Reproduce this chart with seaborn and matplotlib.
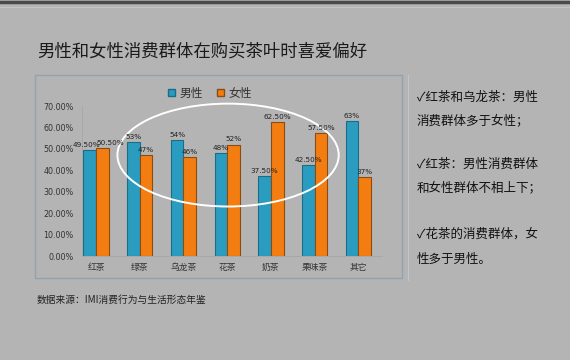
import matplotlib
matplotlib.use("Agg")
import matplotlib.pyplot as plt
import seaborn as sns
import pandas as pd
from matplotlib.patches import Ellipse, Rectangle
from matplotlib.lines import Line2D

categories = ["红茶", "绿茶", "乌龙茶", "花茶", "奶茶", "果味茶", "其它"]
male = [49.5, 53, 54, 48, 37.5, 42.5, 63]
female = [50.5, 47, 46, 52, 62.5, 57.5, 37]
male_labels = ["49.50%", "53%", "54%", "48%", "37.50%", "42.50%", "63%"]
female_labels = ["50.50%", "47%", "46%", "52%", "62.50%", "57.50%", "37%"]
series = ["男性", "女性"]
yticks = [0, 10, 20, 30, 40, 50, 60, 70]

title = "男性和女性消费群体在购买茶叶时喜爱偏好"
notes = ["✓红茶和乌龙茶：男性", "消费群体多于女性；", "", "✓红茶：男性消费群体",
         "和女性群体不相上下；", "", "✓花茶的消费群体，女", "性多于男性。"]
source = "数据来源：IMI消费行为与生活形态年鉴"

sns.set_theme(style="white")
plt.rcParams['font.family'] = ['Noto Sans CJK SC', 'DejaVu Sans']

BG = "#b4b4b4"
BLUE = "#2a9cc0"
ORANGE = "#f47d12"

df = pd.DataFrame({
    "cat": categories * 2,
    "val": male + female,
    "sex": [series[0]] * len(categories) + [series[1]] * len(categories),
})

W, H = 570, 360
fig = plt.figure(figsize=(W / 100, H / 100), dpi=100, facecolor=BG)

# decorative frame lines
fig.add_artist(Line2D([0, 1], [1 - 1.5 / H, 1 - 1.5 / H], color="#4a4a4a", lw=2.5, transform=fig.transFigure))
fig.add_artist(Line2D([0, 1], [1 - 7 / H, 1 - 7 / H], color="#c4c4c4", lw=0.8, transform=fig.transFigure))
fig.add_artist(Rectangle((35 / W, 1 - 278 / H), (402 - 35) / W, (278 - 75) / H, fill=False,
                         ec="#94a2ae", lw=1.0, transform=fig.transFigure))
fig.add_artist(Line2D([408 / W, 408 / W], [1 - 280 / H, 1 - 75 / H], color="#c2c6ca", lw=0.8, transform=fig.transFigure))

ax = fig.add_axes([82 / W, 1 - 256 / H, (382 - 82) / W, 150 / H])
ax.set_facecolor(BG)

sns.barplot(data=df, x="cat", y="val", hue="sex", order=categories, hue_order=series,
            palette=[BLUE, ORANGE], width=0.58, ax=ax, legend=False, saturation=1)

edge_cols = ["#1b6c88", "#8a4c12"]
for i, cont in enumerate(ax.containers):
    for p in cont.patches:
        p.set_edgecolor(edge_cols[i])
        p.set_linewidth(0.8)
    labs = male_labels if i == 0 else female_labels
    anns = ax.bar_label(cont, labels=labs, fontsize=5.2, padding=1.5, color="#222222",
                        family=['DejaVu Sans'])
    # nudge the first pair apart so the close labels do not collide
    if i == 0:
        anns[0].set_ha("right")
        anns[0].xyann = (7.5, 1.5)
    else:
        anns[0].set_ha("left")
        anns[0].xyann = (-4.5, 1.5)

ax.set_ylim(0, 70)
ax.set_xlim(-0.32, 6.54)
ax.set_yticks(yticks)
ax.set_yticklabels([f"{v:.2f}%" for v in yticks], fontsize=5.8, color="#333333", family=['DejaVu Sans'])
ax.tick_params(axis="x", labelsize=6.3, colors="#333333", length=0, pad=5)
ax.tick_params(axis="y", length=0, pad=6)
ax.set_xlabel("")
ax.set_ylabel("")
for s in ["top", "right"]:
    ax.spines[s].set_visible(False)
ax.spines["left"].set_color("#a6a6a6")
ax.spines["bottom"].set_color("#a6a6a6")
ax.spines["left"].set_linewidth(0.6)
ax.spines["bottom"].set_linewidth(0.6)

# highlight ellipse
ax.add_patch(Ellipse((3.02, 47.1), 5.06, 48, fill=False, ec="white", lw=1.4, clip_on=False))

# legend
handles = [Rectangle((0, 0), 1, 1, fc=BLUE, ec=edge_cols[0]), Rectangle((0, 0), 1, 1, fc=ORANGE, ec=edge_cols[1])]
fig.legend(handles, series, loc="center", bbox_to_anchor=(210 / W, 1 - 93 / H), ncol=2, frameon=False,
           fontsize=8.5, handlelength=0.6, handleheight=0.6, handletextpad=0.4, columnspacing=1.2,
           labelcolor="#333333")

fig.text(37 / W, 1 - 52 / H, title, fontsize=12.5, color="#1a1a1a", va="center", ha="left")

ys = [97, 121, 142, 164, 188, 210, 234, 259]
for t, y in zip(notes, ys):
    if t:
        fig.text(417 / W, 1 - y / H, t, fontsize=9, color="#111111", va="center", ha="left")

fig.text(37 / W, 1 - 300 / H, source, fontsize=7, color="#222222", va="center", ha="left")

fig.savefig("out.png", dpi=100, facecolor=BG)
